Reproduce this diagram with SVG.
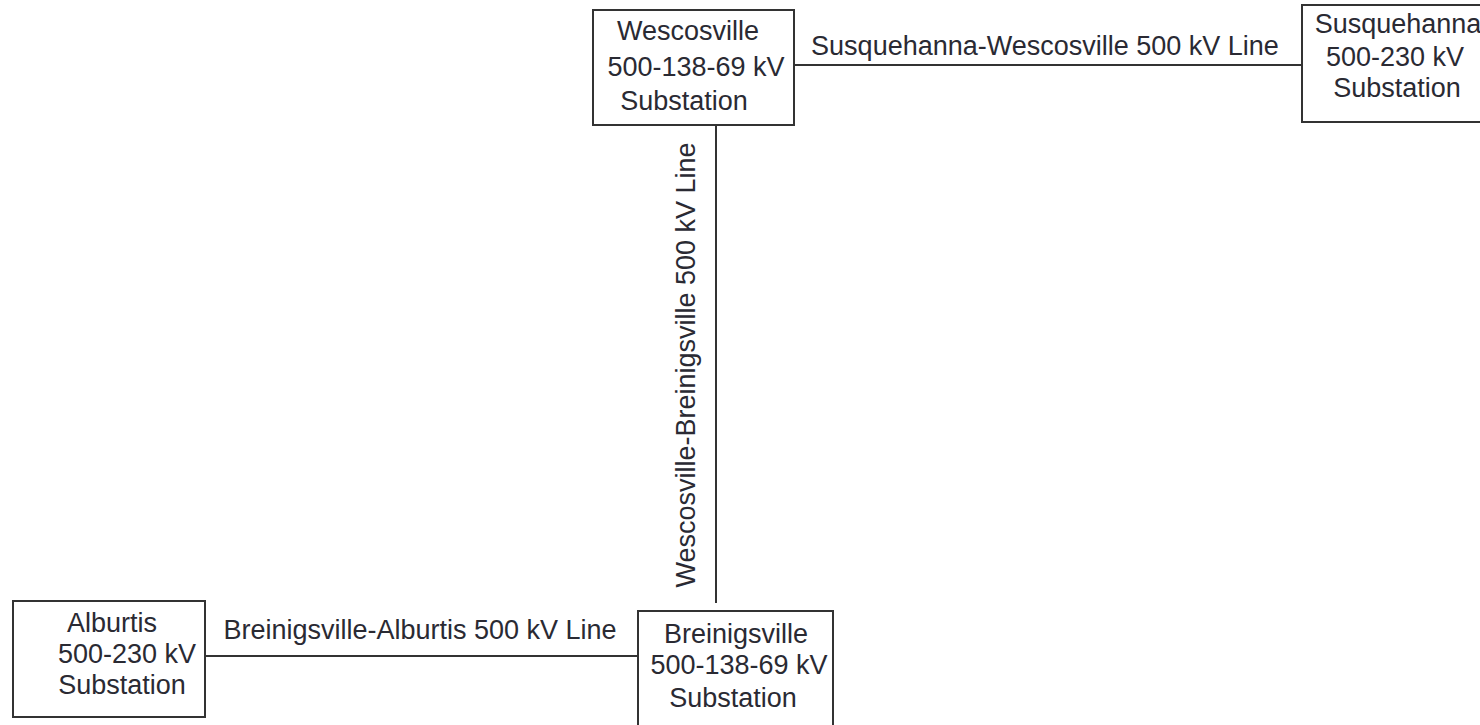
<svg xmlns="http://www.w3.org/2000/svg" width="1480" height="725" viewBox="0 0 1480 725">
<style>
.box{fill:#fff;stroke:#333;stroke-width:2}
.t{font-family:"Liberation Sans",Arial,sans-serif;font-size:27px;fill:#2a2a33;text-anchor:middle}
.ln{stroke:#333;stroke-width:2;fill:none}
</style>
<rect width="1480" height="725" fill="#fff"/>
<g id="connectors">
<line class="ln" x1="794" y1="65" x2="1302" y2="65"/>
<line class="ln" x1="716" y1="125" x2="716" y2="603"/>
<line class="ln" x1="205" y1="656" x2="639" y2="656"/>
<text class="t" x="1045" y="55">Susquehanna-Wescosville 500 kV Line</text>
<text class="t" x="420" y="639">Breinigsville-Alburtis 500 kV Line</text>
<text class="t" transform="translate(695,365) rotate(-90)">Wescosville-Breinigsville 500 kV Line</text>
</g>
<g id="wescosville">
<rect class="box" x="593" y="10" width="201" height="115"/>
<text class="t" x="688" y="40">Wescosville</text>
<text class="t" x="696" y="76">500-138-69 kV</text>
<text class="t" x="684" y="110">Substation</text>
</g>
<g id="susquehanna">
<rect class="box" x="1302" y="5" width="200" height="117"/>
<text class="t" x="1398" y="33">Susquehanna</text>
<text class="t" x="1395" y="66">500-230 kV</text>
<text class="t" x="1397" y="97">Substation</text>
</g>
<g id="alburtis">
<rect class="box" x="13" y="601" width="192" height="116"/>
<text class="t" x="112" y="632">Alburtis</text>
<text class="t" x="127" y="663">500-230 kV</text>
<text class="t" x="122" y="694">Substation</text>
</g>
<g id="breinigsville">
<rect class="box" x="638" y="611" width="195" height="130"/>
<text class="t" x="736" y="643">Breinigsville</text>
<text class="t" x="739" y="674">500-138-69 kV</text>
<text class="t" x="733" y="707">Substation</text>
</g>
</svg>
